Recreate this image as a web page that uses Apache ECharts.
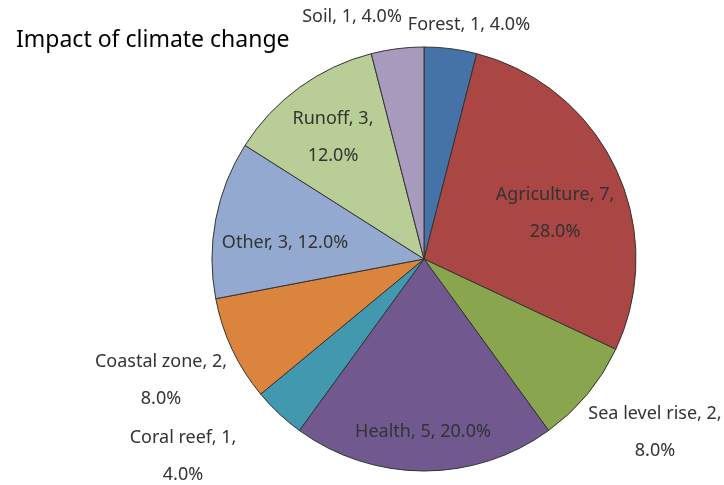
<!DOCTYPE html>
<html>
<head>
<meta charset="utf-8">
<script src="https://cdn.jsdelivr.net/npm/echarts@6/dist/echarts.min.js"></script>
<style>
  html, body { margin: 0; padding: 0; background: #fff; }
  #main { width: 724px; height: 485px; }
</style>
</head>
<body>
<div id="main"></div>
<script>
// 数据
var categories = ['Forest', 'Agriculture', 'Sea level rise', 'Health', 'Coral reef', 'Coastal zone', 'Other', 'Runoff', 'Soil'];
var values = [1, 7, 2, 5, 1, 2, 3, 3, 1];
var colors = ['#4572A7', '#AA4643', '#89A54E', '#71588F', '#4198AF', '#DB843D', '#93A9CF', '#B9CD96', '#A99BBD'];

// 标签位置（标签中心点）与是否换行
var labelPos = [[469, 25], [555, 213], [655, 432], [423, 432], [183, 456], [161, 380], [285, 243], [333, 137], [352, 17]];
var labelWrap = [false, true, true, false, true, true, false, true, false];

var total = values.reduce(function (a, b) { return a + b; }, 0);

var myChart = echarts.init(document.getElementById('main'));

myChart.setOption({
	animation: false,
	title: {
		text: 'Impact of climate change',
		left: 11,
		top: 24,
		textStyle: {
			fontFamily: 'Noto Sans',
			fontSize: 23,
			fontWeight: 'normal',
			color: '#000'
		}
	},
	series: [{
		type: 'pie',
		center: [424, 259],
		radius: 212,
		startAngle: 90,
		clockwise: true,
		data: categories.map(function (name, i) {
			return { name: name, value: values[i], itemStyle: { color: colors[i] } };
		}),
		itemStyle: {
			borderColor: '#333',
			borderWidth: 1
		},
		emphasis: { disabled: true },
		label: {
			show: true,
			position: 'inside',
			fontFamily: 'Noto Sans',
			fontSize: 18,
			lineHeight: 37,
			color: '#333',
			align: 'center',
			formatter: function (p) {
				var pct = (p.value / total * 100).toFixed(1) + '%';
				var sep = labelWrap[p.dataIndex] ? '\n' : ' ';
				return p.name + ', ' + p.value + ',' + sep + pct;
			}
		},
		labelLine: { show: false },
		labelLayout: function (params) {
			var pos = labelPos[params.dataIndex];
			return {
				x: pos[0],
				y: pos[1],
				align: 'center',
				verticalAlign: 'middle'
			};
		}
	}]
});
</script>
</body>
</html>
